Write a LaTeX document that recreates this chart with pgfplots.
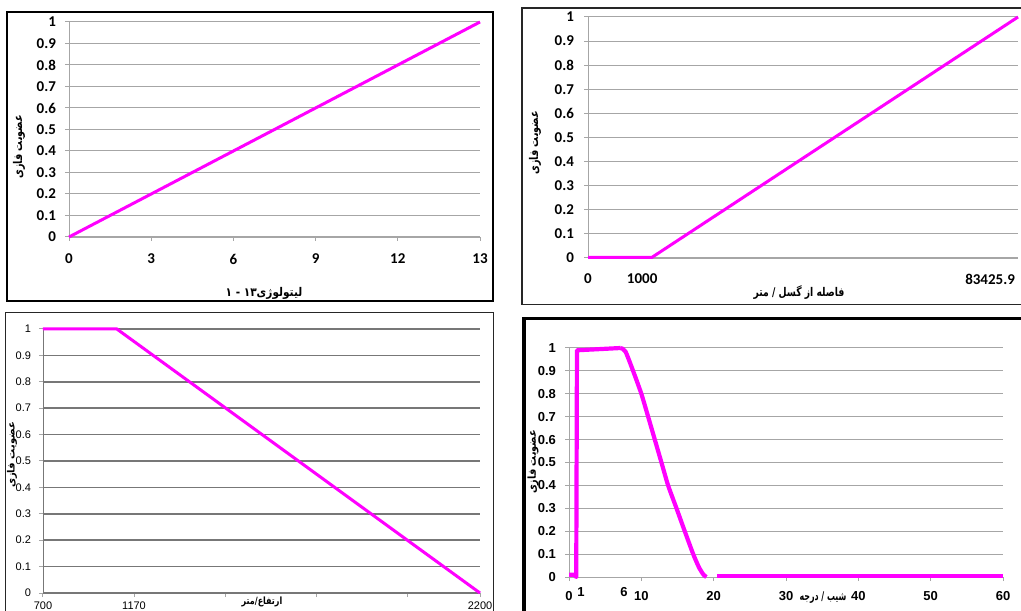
\documentclass[border=0pt]{standalone}
\usepackage{pgfplots}
\pgfplotsset{compat=1.18}
\usepackage{graphicx}
\usepackage{fontspec}
\setmainfont{Liberation Sans}
\newfontfamily\carlito{Carlito}
\newfontfamily\fa[Script=Arabic]{DejaVu Sans}
\TeXXeTstate=1
\definecolor{mag}{HTML}{FF00FF}
\definecolor{gridg}{HTML}{A6A6A6}
\definecolor{gridd}{HTML}{777777}

\pgfplotsset{
  fz/.style={
    scale only axis, anchor=south west, clip=false,
    axis x line*=bottom, axis y line*=left,
    axis line style={draw=gridg,-},
    ymajorgrids, grid style={gridg, line width=0.5pt},
    ymin=0, ymax=1,
    ytick={0,0.1,0.2,0.3,0.4,0.5,0.6,0.7,0.8,0.9,1},
    tick align=outside, major tick length=2pt,
    tick style={gridg, line width=0.5pt},
    /pgf/number format/assume math mode=true,
  },
}

\begin{document}
\begin{tikzpicture}[x=0.5pt,y=0.5pt]
\useasboundingbox (0,0) rectangle (1021,610);

% panel frames
\draw[black, line width=0.6pt] (7,309) rectangle (493,598);
\draw[black!85, line width=0.6pt] (522,305.5) rectangle (1040,602);
\draw[black!85, line width=0.5pt] (5,-10) rectangle (493,297);
\draw[black, line width=1.6pt] (524,-10) rectangle (1040,291.5);

% top left: lithology
\begin{axis}[fz, at={(34.5pt,186.5pt)}, width=205.5pt, height=107.5pt,
  xmin=0, xmax=15,
  xtick={0,3,6,9,12,15}, xticklabels={0,3,6,9,12,13},
  ticklabel style={font=\carlito\bfseries\fontsize{7.5}{8}\selectfont},
  yticklabel style={xshift=-1pt}, xticklabel style={yshift=-3pt}]
\addplot[mag, line width=1.5pt] coordinates {(0,0) (15,1)};
\end{axis}

% top right: distance from fault
\begin{axis}[fz, at={(294pt,176pt)}, width=215pt, height=120.5pt,
  xmin=0, xmax=100,
  xtick={0,12.6,93.5}, xticklabels={0,1000,83425.9},
  x tick style={draw=none},
  ticklabel style={font=\carlito\bfseries\fontsize{7.5}{8}\selectfont},
  yticklabel style={xshift=-1.5pt}, xticklabel style={yshift=-2.5pt}]
\addplot[mag, line width=1.5pt] coordinates {(0,0.003) (14.9,0.003) (100,1)};
\end{axis}

% bottom left: elevation
\begin{axis}[fz, at={(21.5pt,8.5pt)}, width=218.5pt, height=132pt,
  xmin=0, xmax=100,
  grid style={gridd, line width=0.8pt},
  axis line style={draw=gridd,-},
  xtick={0,20.83,41.67,62.5,83.33,100}, xticklabels={700,1170,,,,2200},
  ticklabel style={font=\fontsize{5.5}{6}\selectfont},
  yticklabel style={xshift=-0.5pt}, xticklabel style={yshift=1pt}]
\addplot[mag, line width=1.5pt] coordinates {(0,1) (16.9,1) (100,0)};
\end{axis}

% bottom right: slope
\begin{axis}[fz, at={(284.5pt,16.5pt)}, width=217pt, height=114.5pt,
  xmin=0, xmax=60,
  xtick={0,10,20,30,40,50,60},
  extra x ticks={1.66,7.6}, extra x tick labels={1,6},
  extra x tick style={major tick length=0pt, grid=none},
  ticklabel style={font=\bfseries\fontsize{6.5}{7}\selectfont},
  yticklabel style={xshift=-1pt}, xticklabel style={yshift=-1.5pt}]
\addplot[mag, line width=2.1pt, line join=round] coordinates {
  (0,0.01) (0.7,0.01) (1.0,0) (1.1,0.99) (7.15,1.0)};
\addplot[mag, line width=2.1pt, smooth, tension=0.4] coordinates {
  (7.15,1.0) (7.8,0.985) (8.86,0.9) (10.0,0.8) (10.94,0.7) (11.86,0.6)
  (12.78,0.5) (13.7,0.4) (14.86,0.3) (16.0,0.2) (17.17,0.1) (18.0,0.04)
  (18.6,0.01) (19.0,0)};
\addplot[mag, line width=2.1pt] coordinates {(20.5,0.004) (60,0.004)};
\end{axis}

% axis titles
\def\fz{\fa\bfseries\fontsize{6}{7}\selectfont}
\node[rotate=90] at (19,463) {\scalebox{0.8}[1]{\fz\beginR عضویت فازی\endR}};
\node at (264,317) {\scalebox{0.88}[1]{\fz\beginR لیتولوژی\beginL ۱۳\endL{} - ۱\endR}};
\node[rotate=90] at (535,467) {\scalebox{0.8}[1]{\fz\beginR عضویت فازی\endR}};
\node at (799,317) {\scalebox{0.77}[1]{\fz\beginR فاصله از گسل / متر\endR}};
\node[rotate=90] at (12,155) {\fa\fontsize{5}{6}\selectfont\bfseries\beginR عضویت فازی\endR};
\node at (262,8) {\scalebox{0.8}[1]{\fa\fontsize{5}{6}\selectfont\bfseries\beginR ارتفاع/متر\endR}};
\node[rotate=90] at (533,148) {\scalebox{0.88}[1]{\fa\bfseries\fontsize{5.5}{6}\selectfont\beginR عضویت فازی\endR}};
\node at (823,12) {\scalebox{0.66}[1]{\fz\beginR شیب / درجه\endR}};
\end{tikzpicture}
\end{document}
